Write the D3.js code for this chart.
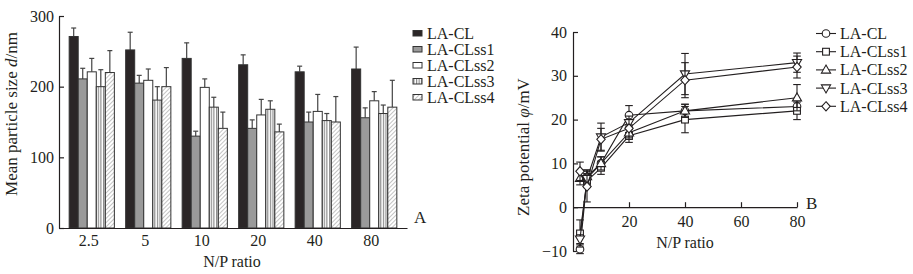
<!DOCTYPE html>
<html>
<head>
<meta charset="utf-8">
<script src="https://d3js.org/d3.v7.min.js"></script>
<style>
  body { margin: 0; background: #fff; }
  text { font-family: "Liberation Serif", "Times New Roman", serif; fill: #231f20; }
  .axis path, .axis line { stroke: #231f20; stroke-width: 1.2px; }
</style>
</head>
<body>
<svg id="chart" width="913" height="274"></svg>
<script>
// ---- data: panel A (particle size, nm) ----
const ratios = ["2.5", "5", "10", "20", "40", "80"];
const series = ["LA-CL", "LA-CLss1", "LA-CLss2", "LA-CLss3", "LA-CLss4"];
const sizeCL    = [271, 252, 240, 231, 221, 225];
const sizeSS1   = [211, 205, 130, 141, 150, 156];
const sizeSS2   = [221, 209, 199, 160, 165, 180];
const sizeSS3   = [200, 181, 171, 168, 152, 162];
const sizeSS4   = [220, 200, 141, 136, 150, 171];
const sizeErrCL  = [12, 25, 22, 14, 8, 31];
const sizeErrSS1 = [15, 11, 7, 12, 14, 14];
const sizeErrSS2 = [19, 16, 12, 22, 24, 13];
const sizeErrSS3 = [24, 19, 14, 12, 10, 12];
const sizeErrSS4 = [31, 27, 23, 11, 36, 38];
const yTicksA = [0, 100, 200, 300];

// ---- data: panel B (zeta potential, mV) ----
const npX = [2.5, 5, 10, 20, 40, 80];
const zetaCL   = [-9.6, 6.5, 10, 21, 22, 23];
const zetaSS1  = [-6, 6, 9, 16.3, 20, 22];
const zetaSS2  = [6.6, 7, 10, 17, 22, 25];
const zetaSS3  = [-7.3, 6.5, 16, 19.3, 30.4, 33];
const zetaSS4  = [8.2, 4.7, 15.5, 18, 29, 32];
const zetaErrCL  = [1, 1.2, 1.5, 2.2, 1.5, 1.5];
const zetaErrSS1 = [3.1, 1.5, 1.5, 1.5, 3, 2];
const zetaErrSS2 = [1.5, 1.5, 1.5, 1.5, 1.5, 3];
const zetaErrSS3 = [1, 2, 3.2, 1.5, 4.7, 2.2];
const zetaErrSS4 = [2.1, 3.5, 2.5, 2, 4, 2.5];
const xTicksB = [20, 40, 60, 80];
const yTicksB = [-10, 0, 10, 20, 30, 40];

const svg = d3.select("#chart");
const ink = "#231f20";
const serif = "'Liberation Serif', 'Times New Roman', serif";
const fs = 16;

// fill patterns
const defs = svg.append("defs");
const vs = defs.append("pattern").attr("id", "vstripe")
  .attr("patternUnits", "userSpaceOnUse").attr("width", 2.6).attr("height", 4);
vs.append("rect").attr("width", 2.6).attr("height", 4).attr("fill", "#fff");
vs.append("line").attr("x1", 0.6).attr("x2", 0.6).attr("y1", 0).attr("y2", 4)
  .attr("stroke", "#777").attr("stroke-width", 1);
const hp = defs.append("pattern").attr("id", "hatch")
  .attr("patternUnits", "userSpaceOnUse").attr("width", 3).attr("height", 3)
  .attr("patternTransform", "rotate(45)");
hp.append("rect").attr("width", 3).attr("height", 3).attr("fill", "#fff");
hp.append("line").attr("x1", 0).attr("x2", 0).attr("y1", 0).attr("y2", 3)
  .attr("stroke", "#888").attr("stroke-width", 1);

const fills = ["#2b2627", "#9a9a9a", "#ffffff", "url(#vstripe)", "url(#hatch)"];

function styleAxis(sel) {
  sel.attr("font-family", serif).attr("font-size", fs);
  sel.selectAll("text").attr("fill", ink).attr("font-family", serif).attr("font-size", fs);
}

// ================= panel A =================
const sizeVals = [sizeCL, sizeSS1, sizeSS2, sizeSS3, sizeSS4];
const sizeErrs = [sizeErrCL, sizeErrSS1, sizeErrSS2, sizeErrSS3, sizeErrSS4];

const x0 = d3.scaleBand().domain(ratios).range([59, 407]).paddingInner(0.2).paddingOuter(0.18);
const x1 = d3.scaleBand().domain(series).range([0, x0.bandwidth()]);
const yA = d3.scaleLinear().domain([0, 300]).range([228, 16]);

const gA = svg.append("g");
ratios.forEach((r, i) => {
  const g = gA.append("g").attr("transform", "translate(" + x0(r) + ",0)");
  series.forEach((s, j) => {
    const v = sizeVals[j][i], e = sizeErrs[j][i];
    const cx = x1(s) + x1.bandwidth() / 2;
    // error bar (upper only)
    g.append("line").attr("x1", cx).attr("x2", cx)
      .attr("y1", yA(v)).attr("y2", yA(v + e))
      .attr("stroke", "#444").attr("stroke-width", 1.2);
    g.append("line").attr("x1", cx - 2.5).attr("x2", cx + 2.5)
      .attr("y1", yA(v + e)).attr("y2", yA(v + e))
      .attr("stroke", "#444").attr("stroke-width", 1.2);
    g.append("rect")
      .attr("x", x1(s)).attr("y", yA(v))
      .attr("width", x1.bandwidth()).attr("height", yA(0) - yA(v))
      .attr("fill", fills[j]).attr("stroke", "#333").attr("stroke-width", 1);
  });
});

gA.append("g").attr("class", "axis")
  .attr("transform", "translate(59,0)")
  .call(d3.axisLeft(yA).tickValues(yTicksA).tickSizeInner(-5).tickSizeOuter(0).tickPadding(5))
  .call(styleAxis);
gA.append("g").attr("class", "axis")
  .attr("transform", "translate(0,228)")
  .call(d3.axisBottom(d3.scaleLinear().domain([59, 407]).range([59, 407])).ticks(0).tickSizeOuter(0));
gA.selectAll(".xlab").data(ratios).join("text")
  .attr("x", d => x0(d) + x0.bandwidth() / 2 - 3)
  .attr("y", 246).attr("text-anchor", "middle").attr("font-family", serif)
  .attr("font-size", fs).text(d => d);
gA.append("text").attr("x", 232).attr("y", 267).attr("text-anchor", "middle")
  .attr("font-family", serif).attr("font-size", fs).text("N/P ratio");
gA.append("text").attr("x", 414).attr("y", 223).attr("font-family", serif)
  .attr("font-size", 17).text("A");
const tA = gA.append("text").attr("transform", "translate(17,114) rotate(-90)")
  .attr("text-anchor", "middle").attr("font-family", serif).attr("font-size", 17);
tA.append("tspan").text("Mean particle size ");
tA.append("tspan").attr("font-style", "italic").text("d");
tA.append("tspan").text("/nm");

// legend A
const legA = gA.append("g");
series.forEach((s, j) => {
  const yy = 33 + j * 16;
  legA.append("rect").attr("x", 413).attr("y", yy - 2.5).attr("width", 9).attr("height", 5.5)
    .attr("fill", fills[j]).attr("stroke", "#333").attr("stroke-width", 1);
  legA.append("text").attr("x", 427).attr("y", yy + 5.5).attr("font-family", serif)
    .attr("font-size", fs).text(s);
});

// ================= panel B =================
const zetaVals = [zetaCL, zetaSS1, zetaSS2, zetaSS3, zetaSS4];
const zetaErrs = [zetaErrCL, zetaErrSS1, zetaErrSS2, zetaErrSS3, zetaErrSS4];
const shapes = ["circle", "square", "triUp", "triDown", "diamond"];

const xB = d3.scaleLinear().domain([0, 80]).range([573, 797]);
const yB = d3.scaleLinear().domain([-10, 40]).range([251, 32]);

const gB = svg.append("g");
gB.append("g").attr("class", "axis")
  .attr("transform", "translate(573,0)")
  .call(d3.axisLeft(yB).tickValues(yTicksB).tickSizeInner(-5).tickSizeOuter(0).tickPadding(6))
  .call(styleAxis);
gB.append("g").attr("class", "axis")
  .attr("transform", "translate(0," + yB(0) + ")")
  .call(d3.axisBottom(xB).tickValues(xTicksB).tickSizeInner(-5).tickSizeOuter(0).tickPadding(8))
  .call(styleAxis);
gB.append("text").attr("x", 685).attr("y", 248).attr("text-anchor", "middle")
  .attr("font-family", serif).attr("font-size", fs).text("N/P ratio");
gB.append("text").attr("x", 806).attr("y", 209).attr("font-family", serif)
  .attr("font-size", 17).text("B");
const tB = gB.append("text").attr("transform", "translate(529,147) rotate(-90)")
  .attr("text-anchor", "middle").attr("font-family", serif).attr("font-size", 17);
tB.append("tspan").text("Zeta potential ");
tB.append("tspan").attr("font-style", "italic").text("φ");
tB.append("tspan").text("/mV");

function marker(g, shape, cx, cy) {
  const st = m => m.attr("fill", "#fff").attr("stroke", ink).attr("stroke-width", 1.1);
  if (shape === "circle") st(g.append("circle").attr("cx", cx).attr("cy", cy).attr("r", 3.8));
  else if (shape === "square") st(g.append("rect").attr("x", cx - 3.4).attr("y", cy - 3.4).attr("width", 6.8).attr("height", 6.8));
  else if (shape === "triUp") st(g.append("path").attr("d", `M${cx},${cy - 4.8}L${cx + 4.6},${cy + 3.2}L${cx - 4.6},${cy + 3.2}Z`));
  else if (shape === "triDown") st(g.append("path").attr("d", `M${cx},${cy + 4.8}L${cx + 4.6},${cy - 3.2}L${cx - 4.6},${cy - 3.2}Z`));
  else st(g.append("path").attr("d", `M${cx},${cy - 4.6}L${cx + 4.2},${cy}L${cx},${cy + 4.6}L${cx - 4.2},${cy}Z`));
}

const line = d3.line().x(d => xB(d[0])).y(d => yB(d[1]));
zetaVals.forEach((vals, j) => {
  const g = gB.append("g");
  vals.forEach((v, i) => {
    const cx = xB(npX[i]), e = zetaErrs[j][i];
    g.append("line").attr("x1", cx).attr("x2", cx).attr("y1", yB(v - e)).attr("y2", yB(v + e))
      .attr("stroke", ink).attr("stroke-width", 1.1);
    [v - e, v + e].forEach(w => g.append("line").attr("x1", cx - 3.8).attr("x2", cx + 3.8)
      .attr("y1", yB(w)).attr("y2", yB(w)).attr("stroke", ink).attr("stroke-width", 1.1));
  });
  g.append("path").datum(vals.map((v, i) => [npX[i], v]))
    .attr("d", line).attr("fill", "none").attr("stroke", ink).attr("stroke-width", 1.1);
  vals.forEach((v, i) => marker(g, shapes[j], xB(npX[i]), yB(v)));
});

// legend B
series.forEach((s, j) => {
  const yy = 33.5 + j * 18.2;
  gB.append("line").attr("x1", 816).attr("x2", 836).attr("y1", yy).attr("y2", yy)
    .attr("stroke", ink).attr("stroke-width", 1.1);
  marker(gB, shapes[j], 826, yy);
  gB.append("text").attr("x", 840).attr("y", yy + 5.5).attr("font-family", serif)
    .attr("font-size", fs).text(s);
});
</script>
</body>
</html>
